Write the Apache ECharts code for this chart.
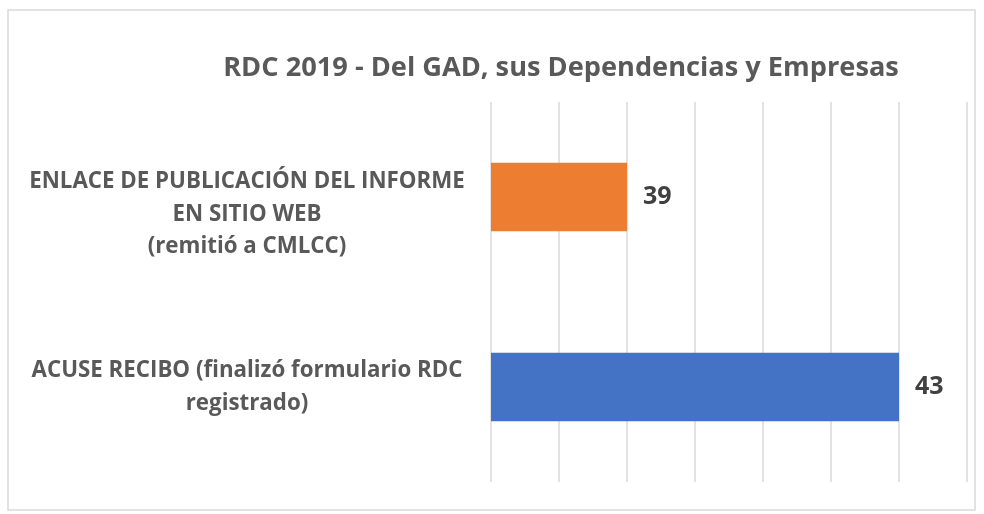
<!DOCTYPE html>
<html>
<head>
<meta charset="utf-8">
<script src="https://cdn.jsdelivr.net/npm/echarts@6/dist/echarts.min.js"></script>
<style>
  html, body { margin: 0; padding: 0; background: #fff; }
  #myChart { width: 984px; height: 514px; }
</style>
</head>
<body>
<div id="myChart"></div>
<script>
  // categorias (de abajo hacia arriba, como en el eje de Excel)
  var categorias = [
    'ACUSE RECIBO (finalizó formulario RDC\nregistrado)',
    'ENLACE DE PUBLICACIÓN DEL INFORME\nEN SITIO WEB\n(remitió a CMLCC)'
  ];
  var valores = [43, 39];
  var colores = ['#4472C4', '#ED7D31'];

  var myChart = echarts.init(document.getElementById('myChart'));
  var fuente = '"Open Sans", "Liberation Sans", sans-serif';

  myChart.setOption({
    animation: false,
    textStyle: { fontFamily: fuente },
    title: {
      text: 'RDC 2019 - Del GAD, sus Dependencias y Empresas',
      left: 556,
      top: 50,
      textAlign: 'center',
      textStyle: { fontSize: 27.2, fontWeight: 'bold', color: '#595959', fontFamily: fuente }
    },
    graphic: [{
      type: 'rect',
      shape: { x: 8, y: 10, width: 967, height: 500 },
      style: { fill: 'none', stroke: '#d9d9d9', lineWidth: 1.5 },
      silent: true
    }],
    grid: { left: 491, right: 17, top: 102, bottom: 32, containLabel: false, outerBoundsMode: 'none' },
    xAxis: {
      type: 'value',
      min: 37,
      max: 44,
      interval: 1,
      axisLabel: { show: false },
      axisTick: { show: false },
      axisLine: { show: false },
      splitLine: { show: true, lineStyle: { color: '#d9d9d9', width: 1.5 } }
    },
    yAxis: {
      type: 'category',
      data: categorias,
      axisLine: { show: false },
      axisTick: { show: false },
      axisLabel: {
        align: 'center',
        margin: 244,
        fontSize: 22.3,
        fontWeight: 'bold',
        color: '#595959',
        lineHeight: 32.5,
        fontFamily: fuente,
        // la etiqueta de arriba queda algo mas baja en el original
        formatter: function (v, i) {
          return i === 1 ? '{sp| }\n' + v : v;
        },
        rich: {
          sp: { fontSize: 1, lineHeight: 35 }
        }
      }
    },
    series: [{
      type: 'bar',
      data: valores.map(function (v, i) {
        return { value: v, itemStyle: { color: colores[i] } };
      }),
      barWidth: '36%',
      label: {
        show: true,
        position: 'right',
        distance: 16,
        fontSize: 25,
        fontWeight: 'bold',
        color: '#404040',
        fontFamily: fuente
      }
    }]
  });
</script>
</body>
</html>
